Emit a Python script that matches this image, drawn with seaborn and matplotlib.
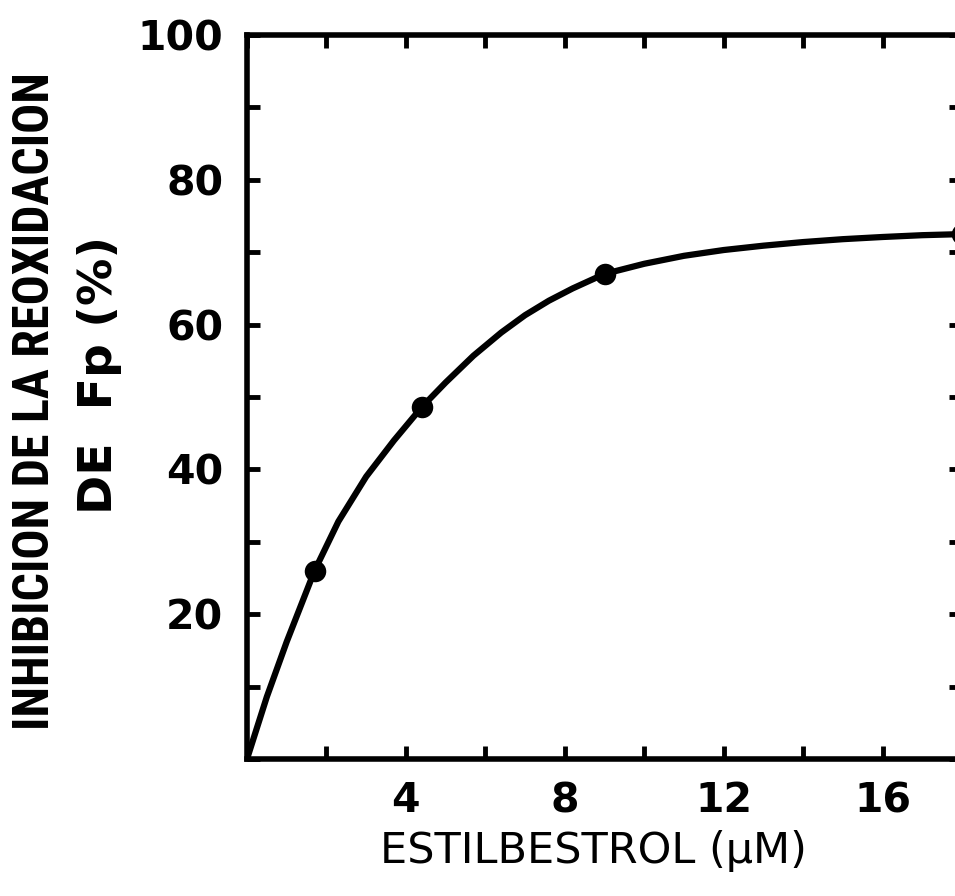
import matplotlib
matplotlib.use("Agg")
import matplotlib.pyplot as plt
from matplotlib.ticker import MultipleLocator
from matplotlib import font_manager
import seaborn as sns
import pandas as pd

# Measured points
conc = [1.7, 4.4, 9.0, 18.0]
inhib = [26.0, 48.6, 67.0, 72.5]

# Fitted curve
curve_x = [0, 0.5, 1.0, 1.7, 2.3, 3.0, 3.7, 4.4, 5.0, 5.7, 6.4, 7.0, 7.6, 8.2,
           9.0, 10.0, 11.0, 12.0, 13.0, 14.0, 15.0, 16.0, 17.0, 18.0]
curve_y = [0, 8.6, 16.2, 26, 32.8, 39.0, 44.0, 48.6, 52.0, 55.7, 58.9, 61.3, 63.3, 65.0,
           67, 68.4, 69.5, 70.3, 70.9, 71.4, 71.8, 72.1, 72.35, 72.5]

x_major = [4, 8, 12, 16]
y_major = [20, 40, 60, 80, 100]

xlabel = "ESTILBESTROL (μM)"
ylabel1 = "INHIBICION DE LA REOXIDACION"
ylabel2 = "DE  Fp (%)"

sns.set_theme(style="ticks")
plt.rcParams["font.family"] = ["DejaVu Sans"]

# choose a condensed family if one is installed
names = {f.name for f in font_manager.fontManager.ttflist}
narrow = None
for cand in ["Liberation Sans Narrow", "DejaVu Sans Condensed", "Roboto Condensed",
             "Open Sans Condensed", "Noto Sans Condensed", "Arial Narrow"]:
    if cand in names:
        narrow = cand
        break
label1_family = [narrow, "DejaVu Sans"] if narrow else ["DejaVu Sans"]

fig = plt.figure(figsize=(9.55, 8.96), dpi=100)
W, H = 955, 896
left, right, top, bottom = 247, 962, 35, 759
ax = fig.add_axes([left / W, (H - bottom) / H, (right - left) / W, (bottom - top) / H])
ax.set_facecolor("white")

pts = pd.DataFrame({"x": conc, "y": inhib})
cur = pd.DataFrame({"x": curve_x, "y": curve_y})
sns.lineplot(data=cur, x="x", y="y", ax=ax, color="black", linewidth=4.5,
             estimator=None, sort=False)
sns.scatterplot(data=pts, x="x", y="y", ax=ax, color="black", s=240,
                edgecolor="black", linewidth=0, clip_on=False, zorder=5)

ax.set_xlim(0, 18)
ax.set_ylim(0, 100)
ax.set_xticks(x_major)
ax.set_yticks(y_major)
ax.xaxis.set_minor_locator(MultipleLocator(2))
ax.yaxis.set_minor_locator(MultipleLocator(10))
for s in ax.spines.values():
    s.set_visible(True)
    s.set_linewidth(4)
    s.set_color("black")

ax.tick_params(which="both", direction="in", top=True, right=True,
               length=9.5, width=3.5, color="black")
ax.tick_params(axis="x", which="major", pad=16, labelsize=29.5, labelcolor="black")
ax.tick_params(axis="y", which="major", pad=17, labelsize=29.5, labelcolor="black")
for lab in ax.get_xticklabels() + ax.get_yticklabels():
    lab.set_fontweight("bold")

ax.set_xlabel("")
ax.set_ylabel("")
fig.text((387 + 800) / 2 / W, 1 - 851 / H, xlabel, ha="center", va="center",
         fontsize=31, color="black")
t1 = fig.text(36 / W, 1 - 401 / H, ylabel1, rotation=90, ha="center", va="center",
              fontsize=36, fontweight="bold", color="black", family=label1_family)
fig.text(100 / W, 1 - 375 / H, ylabel2, rotation=90, ha="center", va="center",
         fontsize=34, fontweight="bold", color="black")

# fit the long label to the length it has in the reference (about 677 px)
fig.canvas.draw()
r = fig.canvas.get_renderer()
ext = t1.get_window_extent(r)
target = 677.0
if ext.height > target:
    t1.set_fontsize(36 * target / ext.height)

fig.savefig("out.png", dpi=100, facecolor="white")
